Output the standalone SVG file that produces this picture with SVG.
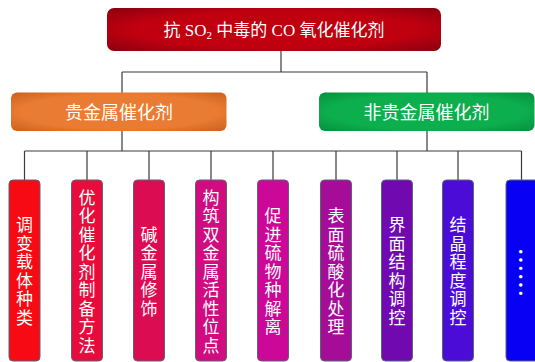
<svg xmlns="http://www.w3.org/2000/svg" width="535" height="362" viewBox="0 0 535 362">
<defs>
<radialGradient id="gRed" cx="0.5" cy="0.5" r="0.7">
<stop offset="0.6" stop-color="#c0000f"/>
<stop offset="1" stop-color="#8a0010"/>
</radialGradient>
<radialGradient id="gOrange" cx="0.5" cy="0.5" r="0.7">
<stop offset="0.65" stop-color="#ea7b32"/>
<stop offset="1" stop-color="#c8621f"/>
</radialGradient>
<radialGradient id="gGreen" cx="0.5" cy="0.5" r="0.7">
<stop offset="0.65" stop-color="#0cae4d"/>
<stop offset="1" stop-color="#078f3c"/>
</radialGradient>
</defs>
<style>
.conn line{stroke:#3a3a3a;stroke-width:1.2;fill:none}
.tall{stroke:#5b6377;stroke-width:1}
.t{font-family:"Liberation Serif","Noto Sans CJK SC",serif;fill:#ffffff}
.h{font-family:"Noto Sans CJK SC",sans-serif;font-size:18px;fill:#ffffff;text-anchor:middle}
.v{font-family:"Noto Sans CJK SC",sans-serif;font-size:17px;fill:#ffffff;text-anchor:middle;writing-mode:vertical-rl;letter-spacing:1.5px}
.d{font-family:"Noto Sans CJK SC",sans-serif;font-size:25px;fill:#ffffff;text-anchor:middle;writing-mode:vertical-rl}
</style>
<g id="connectors" class="conn">
<line x1="281" y1="51" x2="281" y2="72"/>
<line x1="122" y1="72" x2="427" y2="72"/>
<line x1="122" y1="72" x2="122" y2="93"/>
<line x1="427" y1="72" x2="427" y2="93"/>
<line x1="122" y1="131" x2="122" y2="151"/>
<line x1="427" y1="131" x2="427" y2="151"/>
<line x1="24.5" y1="151" x2="521.5" y2="151"/>
<line x1="24.5" y1="151" x2="24.5" y2="180"/>
<line x1="87" y1="151" x2="87" y2="180"/>
<line x1="149" y1="151" x2="149" y2="180"/>
<line x1="211" y1="151" x2="211" y2="180"/>
<line x1="273" y1="151" x2="273" y2="180"/>
<line x1="336" y1="151" x2="336" y2="180"/>
<line x1="397" y1="151" x2="397" y2="180"/>
<line x1="458" y1="151" x2="458" y2="180"/>
<line x1="521.5" y1="151" x2="521.5" y2="180"/>
</g>
<g id="root">
<rect x="107" y="8" width="334" height="43" rx="7" fill="url(#gRed)"/>
<text class="t" x="274" y="36" font-size="17" text-anchor="middle">抗 SO<tspan font-size="11" dy="3">2</tspan><tspan dy="-3"> 中毒的 CO 氧化催化剂</tspan></text>
</g>
<g id="noble">
<rect x="11" y="92.5" width="215.5" height="38.5" rx="6" fill="url(#gOrange)"/>
<text class="h" x="119" y="118.5">贵金属催化剂</text>
</g>
<g id="nonnoble">
<rect x="319" y="92.5" width="215.5" height="38.5" rx="6" fill="url(#gGreen)"/>
<text class="h" x="426.5" y="118.5">非贵金属催化剂</text>
</g>
<g id="b1">
<rect class="tall" x="9" y="180" width="31" height="181" rx="4" fill="#f70a14"/>
<text class="v" x="24.5" y="271.8">调变载体种类</text>
</g>
<g id="b2">
<rect class="tall" x="71.5" y="180" width="31" height="181" rx="4" fill="#e80c3c"/>
<text class="v" x="87" y="271.8">优化催化剂制备方法</text>
</g>
<g id="b3">
<rect class="tall" x="133.5" y="180" width="31" height="181" rx="4" fill="#dc0c52"/>
<text class="v" x="149" y="271.8">碱金属修饰</text>
</g>
<g id="b4">
<rect class="tall" x="195.5" y="180" width="31" height="181" rx="4" fill="#d00c80"/>
<text class="v" x="211" y="271.8">构筑双金属活性位点</text>
</g>
<g id="b5">
<rect class="tall" x="257.5" y="180" width="31" height="181" rx="4" fill="#cc0898"/>
<text class="v" x="273" y="271.8">促进硫物种解离</text>
</g>
<g id="b6">
<rect class="tall" x="320.5" y="180" width="31" height="181" rx="4" fill="#a50c98"/>
<text class="v" x="336" y="271.8">表面硫酸化处理</text>
</g>
<g id="b7">
<rect class="tall" x="381.5" y="180" width="31" height="181" rx="4" fill="#700ab0"/>
<text class="v" x="397" y="271.8">界面结构调控</text>
</g>
<g id="b8">
<rect class="tall" x="442.5" y="180" width="31" height="181" rx="4" fill="#4a0cd6"/>
<text class="v" x="458" y="271.8">结晶程度调控</text>
</g>
<g id="b9">
<rect class="tall" x="506" y="180" width="36" height="181" rx="4" fill="#0800f5"/>
<text class="d" x="522" y="272.5">……</text>
</g>
</svg>
